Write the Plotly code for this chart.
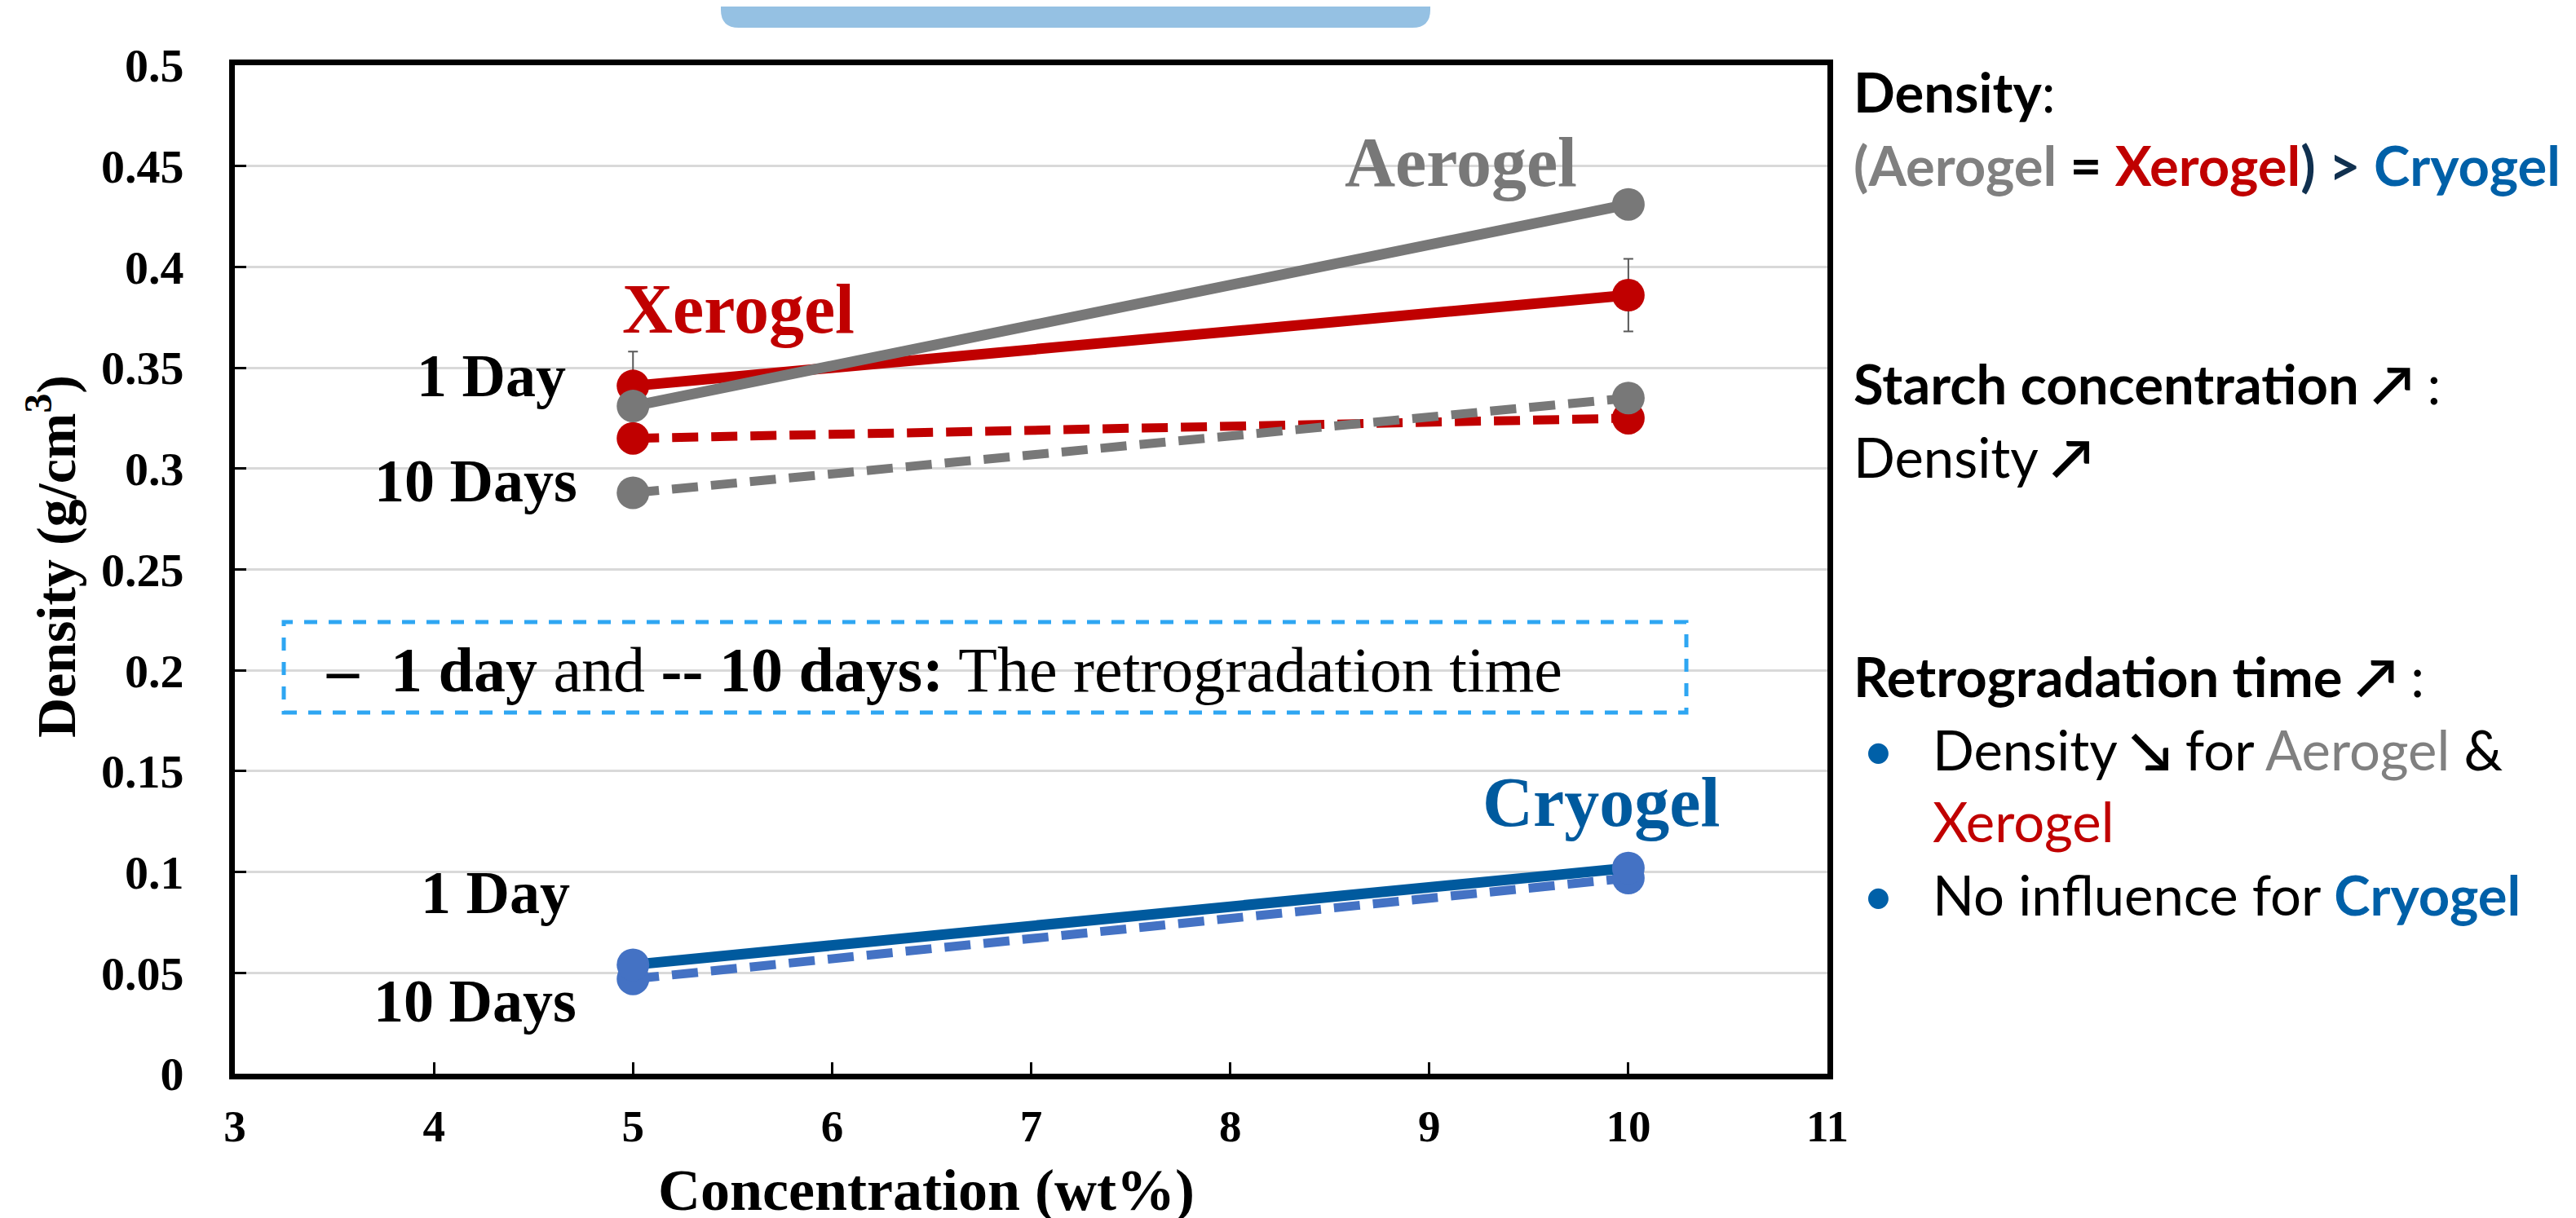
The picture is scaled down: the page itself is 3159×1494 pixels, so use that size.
import plotly.graph_objects as go

# ---------------- data ----------------
conc = [5, 10]
aerogel_1d = [0.331, 0.431]
xerogel_1d = [0.341, 0.386]
xerogel_1d_err = [0.017, 0.018]
cryogel_1d = [0.054, 0.102]
aerogel_10d = [0.288, 0.335]
xerogel_10d = [0.315, 0.325]
cryogel_10d = [0.047, 0.097]

x_ticks = [3, 4, 5, 6, 7, 8, 9, 10, 11]
y_ticks = [0, 0.05, 0.1, 0.15, 0.2, 0.25, 0.3, 0.35, 0.4, 0.45, 0.5]
y_ticktext = ["0", "0.05", "0.1", "0.15", "0.2", "0.25", "0.3", "0.35", "0.4", "0.45", "0.5"]

GRAY = "#787878"
RED = "#C00000"
DBLUE = "#005A9E"
LBLUE = "#4472C4"

W, H = 3159, 1494
PL, PR, PT, PB = 280, 2233, 72, 1309
SERIF = "Liberation Serif"
SANS = "Lato"


def px_x(px):
    return (px - PL) / (PR - PL)


def px_y(px):
    return (PB - px) / (PB - PT)


def serif_mid(baseline, size):
    return px_y(baseline - 0.3375 * size)


def sans_mid(baseline, size):
    return px_y(baseline - 0.387 * size)


fig = go.Figure()

solid_w, dash_w, msize = 13, 11, 40
dash = "32px,16px"

fig.add_trace(go.Scatter(x=conc, y=xerogel_10d, mode="lines+markers",
                         line=dict(color=RED, width=dash_w, dash=dash),
                         marker=dict(color=RED, size=msize)))
fig.add_trace(go.Scatter(x=conc, y=aerogel_10d, mode="lines+markers",
                         line=dict(color=GRAY, width=dash_w, dash=dash),
                         marker=dict(color=GRAY, size=msize)))
fig.add_trace(go.Scatter(x=conc, y=xerogel_1d, mode="lines+markers",
                         line=dict(color=RED, width=solid_w),
                         marker=dict(color=RED, size=msize),
                         error_y=dict(type="data", array=xerogel_1d_err, visible=True,
                                      color="#595959", thickness=2, width=6)))
fig.add_trace(go.Scatter(x=conc, y=aerogel_1d, mode="lines+markers",
                         line=dict(color=GRAY, width=solid_w),
                         marker=dict(color=GRAY, size=msize)))
fig.add_trace(go.Scatter(x=conc, y=cryogel_10d, mode="lines+markers",
                         line=dict(color=LBLUE, width=dash_w, dash=dash),
                         marker=dict(color=LBLUE, size=msize)))
fig.add_trace(go.Scatter(x=conc, y=cryogel_1d, mode="lines+markers",
                         line=dict(color=DBLUE, width=solid_w),
                         marker=dict(color=LBLUE, size=msize)))

annotations = []

# axis titles
TS = 72
annotations.append(dict(xref="paper", yref="paper", x=px_x(1128), y=serif_mid(1476, TS),
                        text="<b>Concentration (wt%)</b>", showarrow=False,
                        xanchor="center", yanchor="middle",
                        font=dict(family=SERIF, size=TS, color="black")))
annotations.append(dict(xref="paper", yref="paper", x=px_x(56), y=px_y(675),
                        text="<b>Density (g/cm<sup>3</sup>)</b>", showarrow=False,
                        textangle=-90, xanchor="center", yanchor="middle",
                        font=dict(family=SERIF, size=68, color="black")))

# series labels
LS = 86
annotations.append(dict(xref="paper", yref="paper", x=px_x(1783), y=serif_mid(220, LS),
                        text="<b>Aerogel</b>", showarrow=False, xanchor="center",
                        yanchor="middle", font=dict(family=SERIF, size=LS, color=GRAY)))
annotations.append(dict(xref="paper", yref="paper", x=px_x(897), y=serif_mid(400, LS),
                        text="<b>Xerogel</b>", showarrow=False, xanchor="center",
                        yanchor="middle", font=dict(family=SERIF, size=LS, color=RED)))
annotations.append(dict(xref="paper", yref="paper", x=px_x(1955), y=serif_mid(1005, LS),
                        text="<b>Cryogel</b>", showarrow=False, xanchor="center",
                        yanchor="middle", font=dict(family=SERIF, size=LS, color=DBLUE)))

DS = 74
for txt, right, base in [("1 Day", 688, 478), ("10 Days", 702, 607),
                         ("1 Day", 693, 1112), ("10 Days", 701, 1245)]:
    annotations.append(dict(xref="paper", yref="paper", x=px_x(right), y=serif_mid(base, DS),
                            text="<b>%s</b>" % txt, showarrow=False, xanchor="right",
                            yanchor="middle", font=dict(family=SERIF, size=DS, color="black")))

# legend box text
BS = 78
annotations.append(dict(xref="paper", yref="paper", x=px_x(390), y=serif_mid(840, BS),
                        text="<b>\u2013  1 day</b> and <b>-- 10 days:</b> The retrogradation time",
                        showarrow=False, xanchor="left", yanchor="middle",
                        font=dict(family=SERIF, size=BS, color="black")))

# right-hand notes
RS = 67
RX = px_x(2263)
BX = px_x(2274)
TX = px_x(2360)
right_lines = [
    (RX, 130, "<b>Density</b>:"),
    (RX, 220, "<b><span style='color:#808080'>(Aerogel</span> = "
              "<span style='color:#C00000'>Xerogel</span>"
              "<span style='color:#10304F'>) &gt;</span> "
              "<span style='color:#0060A8'>Cryogel</span></b>"),
    (RX, 488, "<b>Starch concentration \u2197</b> :"),
    (RX, 578, "Density <b>\u2197</b>"),
    (RX, 847, "<b>Retrogradation time \u2197</b> :"),
    (BX, 937, "<span style='color:#0060A8'>\u2022</span>"),
    (TX, 937, "Density <b>\u2198</b> for <span style='color:#808080'>Aerogel</span> &amp;"),
    (TX, 1025, "<span style='color:#C00000'>Xerogel</span>"),
    (BX, 1115, "<span style='color:#0060A8'>\u2022</span>"),
    (TX, 1115, "No influence for <b><span style='color:#0060A8'>Cryogel</span></b>"),
]
for x, base, txt in right_lines:
    annotations.append(dict(xref="paper", yref="paper", x=x, y=sans_mid(base, RS),
                            text=txt, showarrow=False, xanchor="left", yanchor="middle",
                            font=dict(family=SANS, size=RS, color="black")))

shapes = []
# dashed legend box
shapes.append(dict(type="rect", xref="paper", yref="paper",
                   x0=px_x(340), x1=px_x(2060), y0=px_y(866), y1=px_y(755),
                   line=dict(color="#2EA6F2", width=5, dash="16px,14px"),
                   fillcolor="rgba(0,0,0,0)", layer="above"))

# rounded top banner (partially visible)
bx0, bx1, by0, by1 = px_x(876), px_x(1746), px_y(26), px_y(-40)
rx = 22 / (PR - PL)
ry = 22 / (PB - PT)
path = (f"M {bx0},{by1} L {bx0},{by0 + ry} Q {bx0},{by0} {bx0 + rx},{by0} "
        f"L {bx1 - rx},{by0} Q {bx1},{by0} {bx1},{by0 + ry} L {bx1},{by1} Z")
shapes.append(dict(type="path", xref="paper", yref="paper", path=path,
                   fillcolor="#95C1E3", line=dict(width=0), layer="above"))

fig.update_layout(
    width=W, height=H, autosize=False,
    margin=dict(l=PL, r=W - PR, t=PT, b=H - PB),
    paper_bgcolor="white", plot_bgcolor="white",
    showlegend=False,
    annotations=annotations,
    shapes=shapes,
)

fig.update_xaxes(range=[3, 11], tickvals=x_ticks, ticks="inside", ticklen=14,
                 tickwidth=2.5, tickcolor="black", showline=True, linewidth=7,
                 linecolor="black", mirror=True, showgrid=False, zeroline=False,
                 ticklabelstandoff=10,
                 tickfont=dict(family=SERIF, size=55, color="black", weight="bold"))
fig.update_yaxes(range=[0, 0.5], tickvals=y_ticks, ticktext=y_ticktext, ticks="inside",
                 ticklen=14, tickwidth=2.5, tickcolor="black", showline=True,
                 linewidth=7, linecolor="black", mirror=True, showgrid=True,
                 gridcolor="#D9D9D9", gridwidth=3, zeroline=False,
                 ticklabelstandoff=44,
                 tickfont=dict(family=SERIF, size=58, color="black", weight="bold"))

fig.write_html("out.html")
